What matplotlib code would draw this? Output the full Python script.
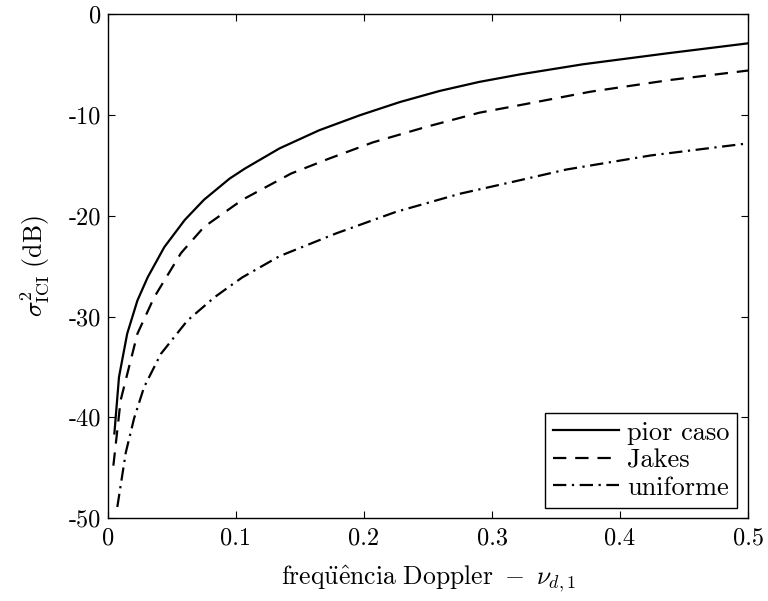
import matplotlib
matplotlib.use("Agg")
import matplotlib.pyplot as plt

plt.rcParams['font.family'] = 'cmr10'
plt.rcParams['mathtext.fontset'] = 'cm'
plt.rcParams['axes.unicode_minus'] = False
plt.rcParams['font.size'] = 17.5

# values (Doppler frequency vs ICI power in dB)
nu_pior = [0.005, 0.0086, 0.015, 0.023, 0.031, 0.044, 0.06, 0.075, 0.095, 0.107,
           0.134, 0.165, 0.197, 0.228, 0.259, 0.29, 0.322, 0.371, 0.437, 0.5]
db_pior = [-41.6, -36.0, -31.7, -28.4, -26.1, -23.1, -20.4, -18.4, -16.3, -15.3,
           -13.3, -11.5, -10.0, -8.7, -7.6, -6.7, -5.95, -4.95, -3.86, -2.87]

nu_jakes = [0.0042, 0.0099, 0.023, 0.036, 0.057, 0.075, 0.095, 0.105, 0.143,
            0.173, 0.207, 0.249, 0.29, 0.322, 0.377, 0.439, 0.493, 0.5]
db_jakes = [-44.8, -38.3, -31.7, -28.1, -23.7, -21.1, -19.3, -18.4, -15.8,
            -14.3, -12.7, -11.15, -9.76, -9.0, -7.67, -6.51, -5.68, -5.57]

nu_unif = [0.0073, 0.0139, 0.0204, 0.0282, 0.0413, 0.062, 0.083, 0.095, 0.105,
           0.134, 0.178, 0.225, 0.275, 0.317, 0.358, 0.424, 0.5]
db_unif = [-48.9, -43.5, -40.1, -37.0, -33.7, -30.4, -28.1, -27.0, -26.1,
           -24.0, -21.75, -19.6, -17.8, -16.6, -15.4, -14.0, -12.8]

xticks = [0, 0.1, 0.2, 0.3, 0.4, 0.5]
xticklabels = ['0', '0.1', '0.2', '0.3', '0.4', '0.5']
yticks = [-50, -40, -30, -20, -10, 0]
yticklabels = ['-50', '-40', '-30', '-20', '-10', '0']

fig = plt.figure(figsize=(7.68, 6.01), dpi=100)
ax = fig.add_axes([0.1406, 0.138, 0.8334, 0.838])

ax.plot(nu_pior, db_pior, color='black', lw=1.6, label='pior caso')
ax.plot(nu_jakes, db_jakes, color='black', lw=1.6, dashes=(6, 4), label='Jakes')
ax.plot(nu_unif, db_unif, color='black', lw=1.6, dashes=(6, 2.5, 1, 2.5), label='uniforme')

ax.set_xlim(0, 0.5)
ax.set_ylim(-50, 0)
ax.set_xticks(xticks)
ax.set_xticklabels(xticklabels)
ax.set_yticks(yticks)
ax.set_yticklabels(yticklabels)
ax.tick_params(direction='in', top=True, right=True, length=5, width=0.8)
ax.tick_params(axis='x', pad=7)
ax.tick_params(axis='y', pad=5)
for s in ax.spines.values():
    s.set_linewidth(1.0)

ax.set_xlabel(r'$\mathrm{freq\ddot{u}\hat{e}ncia\ Doppler}\ -\ \nu_{d,1}$',
              fontsize=18.5, labelpad=10)
ax.set_ylabel(r'$\sigma^2_{\mathrm{ICI}}\ \mathrm{(dB)}$', fontsize=18.5, labelpad=12)

leg = ax.legend(loc='lower right', fancybox=False, edgecolor='black', framealpha=1,
                fontsize=19, handlelength=2.5, borderaxespad=0.4, labelspacing=0.14,
                handletextpad=0.3, borderpad=0.3)
leg.get_frame().set_linewidth(1.0)

fig.savefig('out.png', dpi=100)
